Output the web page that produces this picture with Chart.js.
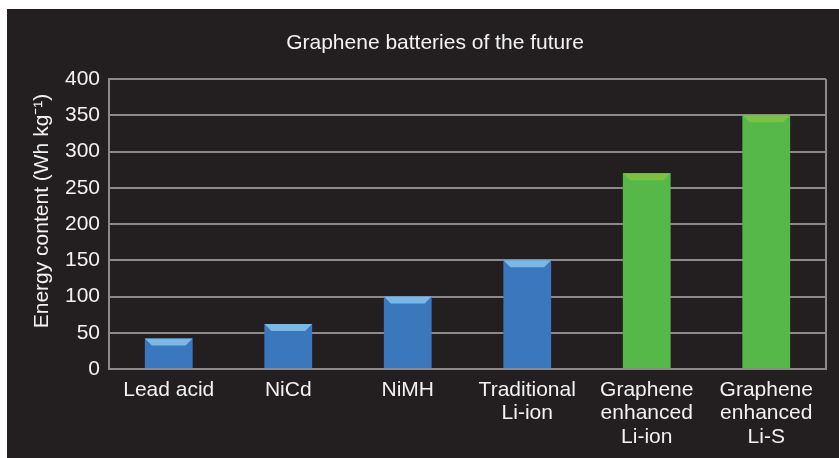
<!DOCTYPE html>
<html>
<head>
<meta charset="utf-8">
<script src="https://cdn.jsdelivr.net/npm/chart.js@4"></script>
<style>
  html, body { margin: 0; padding: 0; background: #ffffff; }
  #panel {
    position: absolute; left: 7px; top: 9px;
    width: 832px; height: 449px;
    background: #231f20;
  }
</style>
</head>
<body>
<div id="panel"><canvas id="batteryChart" width="832" height="449"></canvas></div>
<script>
// Data
const categories = [
    'Lead acid',
    'NiCd',
    'NiMH',
    ['Traditional', 'Li-ion'],
    ['Graphene', 'enhanced', 'Li-ion'],
    ['Graphene', 'enhanced', 'Li-S']
];
const energyContent = [42, 62, 100, 150, 270, 350];
const isGraphene = [false, false, false, false, true, true];
const yTicks = [0, 50, 100, 150, 200, 250, 300, 350, 400];
const chartTitle = 'Graphene batteries of the future';
const yTitle = 'Energy content (Wh kg\u207B\u00B9)';

// Colours
const blueBody = '#3a77bd';
const blueTop = '#79b9e8';
const greenBody = '#55b848';
const greenTop = '#7bc243';
const gridGray = '#8a8a8a';
const textColor = '#f2f2f2';
const fontFamily = '"Liberation Sans", Arial, Helvetica, sans-serif';

// Light bevelled cap on top of each bar
const bevelPlugin = {
    id: 'bevel',
    afterDatasetsDraw(chart) {
        const ctx = chart.ctx;
        const meta = chart.getDatasetMeta(0);
        meta.data.forEach((bar, i) => {
            const half = bar.width / 2;
            const d = 7;
            ctx.save();
            ctx.fillStyle = isGraphene[i] ? greenTop : blueTop;
            ctx.beginPath();
            ctx.moveTo(bar.x - half, bar.y);
            ctx.lineTo(bar.x + half, bar.y);
            ctx.lineTo(bar.x + half - d, bar.y + d);
            ctx.lineTo(bar.x - half + d, bar.y + d);
            ctx.closePath();
            ctx.fill();
            ctx.restore();
        });
    }
};

// Right-hand frame line, chart title and rotated y title
const frameRight = {
    id: 'frameRight',
    beforeDatasetsDraw(chart) {
        const { ctx, chartArea } = chart;
        ctx.save();
        ctx.strokeStyle = gridGray;
        ctx.lineWidth = 2;
        ctx.beginPath();
        ctx.moveTo(chartArea.right, chartArea.top);
        ctx.lineTo(chartArea.right, chartArea.bottom);
        ctx.stroke();

        ctx.fillStyle = textColor;
        ctx.font = '21px ' + fontFamily;
        ctx.textAlign = 'center';
        ctx.textBaseline = 'middle';
        ctx.fillText(chartTitle, 428, 34);

        ctx.translate(35, 202);
        ctx.rotate(-Math.PI / 2);
        ctx.fillText(yTitle, 0, 0);
        ctx.restore();
    }
};

const ctx = document.getElementById('batteryChart').getContext('2d');
new Chart(ctx, {
    type: 'bar',
    data: {
        labels: categories,
        datasets: [{
            label: 'Energy content',
            data: energyContent,
            backgroundColor: isGraphene.map(g => g ? greenBody : blueBody),
            borderWidth: 0,
            categoryPercentage: 1.0,
            barPercentage: 0.4
        }]
    },
    options: {
        responsive: false,
        animation: false,
        layout: { padding: { left: 0, right: 13, top: 70, bottom: 0 } },
        plugins: {
            legend: { display: false },
            tooltip: { enabled: false },
            title: { display: false }
        },
        scales: {
            x: {
                grid: { display: false, drawTicks: false },
                border: { display: true, color: gridGray, width: 2 },
                ticks: {
                    color: textColor,
                    font: { family: fontFamily, size: 21, lineHeight: 1.1 },
                    padding: 10,
                    maxRotation: 0,
                    autoSkip: false
                },
                afterFit: (scale) => { scale.height = 89; }
            },
            y: {
                min: 0,
                max: 400,
                afterBuildTicks: (scale) => { scale.ticks = yTicks.map(v => ({ value: v })); },
                grid: { color: gridGray, lineWidth: 2, drawTicks: false },
                border: { display: true, color: gridGray, width: 2 },
                ticks: {
                    color: textColor,
                    font: { family: fontFamily, size: 21 },
                    padding: 9
                },
                afterFit: (scale) => { scale.width = 102; }
            }
        }
    },
    plugins: [frameRight, bevelPlugin]
});
</script>
</body>
</html>
